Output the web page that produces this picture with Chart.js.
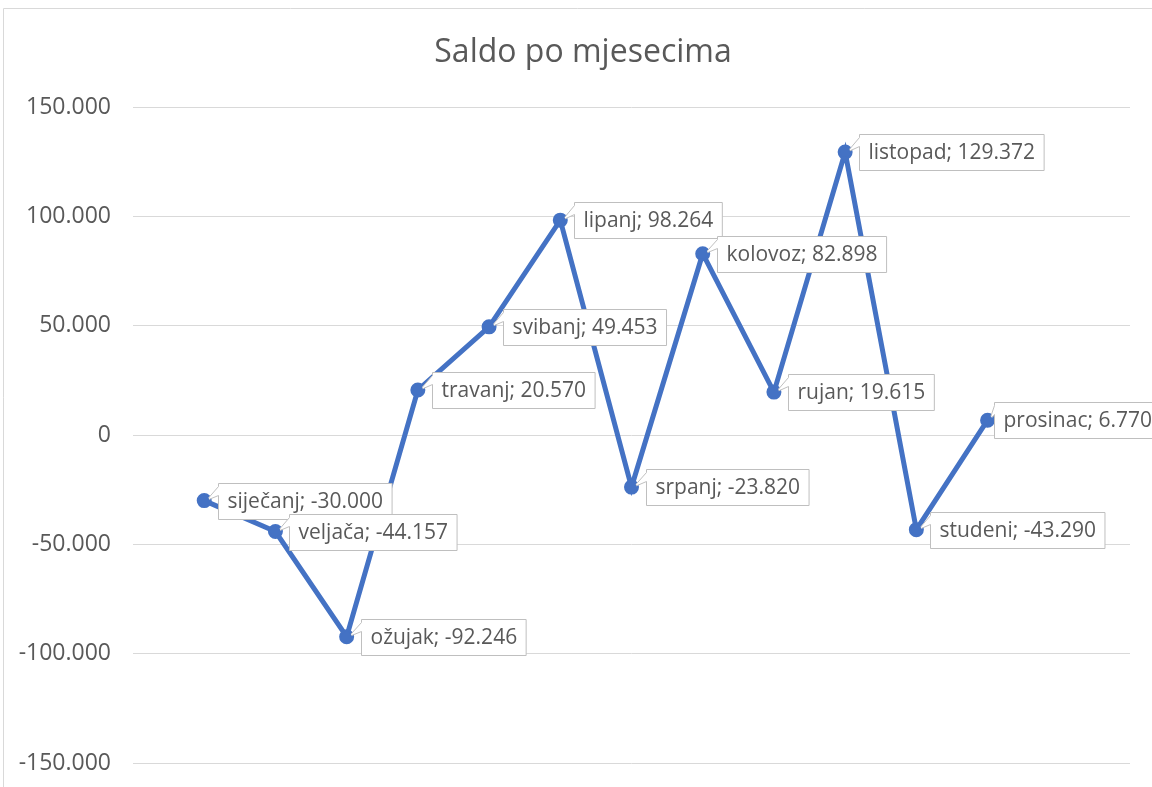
<!DOCTYPE html>
<html lang="hr">
<head>
  <meta charset="UTF-8">
  <title>Saldo po mjesecima</title>
  <script src="https://cdn.jsdelivr.net/npm/chart.js"></script>
  <style>
    body, html {
      margin: 0;
      background: #fff;
    }
    #wrap {
      width: 1152px;
      height: 787px;
    }
  </style>
</head>
<body>
  <div id="wrap"><canvas id="saldoChart" width="1152" height="787"></canvas></div>

  <script>
    const months = ["siječanj", "veljača", "ožujak", "travanj", "svibanj", "lipanj",
                    "srpanj", "kolovoz", "rujan", "listopad", "studeni", "prosinac"];
    const saldo = [-30000, -44157, -92246, 20570, 49453, 98264,
                   -23820, 82898, 19615, 129372, -43290, 6770];
    const yTicks = [-150000, -100000, -50000, 0, 50000, 100000, 150000];

    // Excel leaves one empty slot before and two after the series
    const xLabels = [""].concat(months, ["", ""]);
    const yData = [null].concat(saldo, [null, null]);

    const fmt = v => {
      const s = Math.abs(v).toString().replace(/\B(?=(\d{3})+(?!\d))/g, ".");
      return (v < 0 ? "-" : "") + s;
    };

    const FONT = "'Open Sans', sans-serif";

    // chart frame + title
    const framePlugin = {
      id: "frame",
      beforeDraw(chart) {
        const ctx = chart.ctx;
        ctx.save();
        ctx.strokeStyle = "#d9d9d9";
        ctx.lineWidth = 1;
        ctx.beginPath();
        ctx.moveTo(3.5, 787);
        ctx.lineTo(3.5, 8.5);
        ctx.lineTo(1152, 8.5);
        ctx.stroke();
        ctx.fillStyle = "#595959";
        ctx.font = "32px " + FONT;
        ctx.textAlign = "center";
        ctx.textBaseline = "middle";
        ctx.fillText("Saldo po mjesecima", 583, 53);
        ctx.restore();
      }
    };

    // callout data labels like Excel
    const calloutPlugin = {
      id: "callouts",
      afterDatasetsDraw(chart) {
        const ctx = chart.ctx;
        const meta = chart.getDatasetMeta(0);
        ctx.save();
        ctx.font = "21px " + FONT;
        meta.data.forEach((pt, i) => {
          const v = yData[i];
          if (v === null) return;
          const text = xLabels[i] + "; " + fmt(v);
          const w = ctx.measureText(text).width + 18;
          const h = 36;
          let x0 = pt.x + 14;
          if (x0 + w > chart.width) x0 = Math.max(pt.x + 6, chart.width - w);
          x0 = Math.round(x0) + 0.5;
          const y0 = Math.round(pt.y - h / 2) + 0.5;
          ctx.beginPath();
          ctx.moveTo(x0, y0);
          ctx.lineTo(x0 + w, y0);
          ctx.lineTo(x0 + w, y0 + h);
          ctx.lineTo(x0, y0 + h);
          ctx.lineTo(x0, y0 + 12);
          ctx.lineTo(pt.x + 2, pt.y);
          ctx.lineTo(x0, y0 + 3);
          ctx.closePath();
          ctx.fillStyle = "#fff";
          ctx.fill();
          ctx.strokeStyle = "#bfbfbf";
          ctx.lineWidth = 1;
          ctx.stroke();
          // redraw point over the wedge
          ctx.beginPath();
          ctx.arc(pt.x, pt.y, 5, 0, Math.PI * 2);
          ctx.fillStyle = "#4472C4";
          ctx.fill();
          ctx.fillStyle = "#595959";
          ctx.textAlign = "left";
          ctx.textBaseline = "middle";
          ctx.fillText(text, x0 + 9, y0 + h / 2 + 1);
        });
        ctx.restore();
      }
    };

    new Chart(document.getElementById("saldoChart"), {
      type: "line",
      data: {
        labels: xLabels,
        datasets: [{
          data: yData,
          borderColor: "#4472C4",
          backgroundColor: "#4472C4",
          borderWidth: 5,
          pointRadius: 5,
          pointBackgroundColor: "#4472C4",
          pointBorderColor: "#4472C4",
          tension: 0
        }]
      },
      options: {
        responsive: false,
        animation: false,
        events: [],
        layout: { padding: { top: 107, bottom: 24, right: 22, left: 0 } },
        plugins: {
          legend: { display: false },
          title: { display: false },
          tooltip: { enabled: false }
        },
        scales: {
          x: {
            display: false,
            offset: false
          },
          y: {
            min: -150000,
            max: 150000,
            afterFit(scale) {
              scale.width = 133;
              scale.paddingTop = 0;
              scale.paddingBottom = 0;
            },
            afterBuildTicks(scale) { scale.ticks = yTicks.map(v => ({ value: v })); },
            border: { display: false },
            grid: { color: "#d9d9d9", lineWidth: 1, drawTicks: false },
            ticks: {
              padding: 22,
              color: "#595959",
              font: { family: "'Open Sans', sans-serif", size: 23 },
              callback: v => fmt(v)
            }
          }
        }
      },
      plugins: [framePlugin, calloutPlugin]
    });
  </script>
</body>
</html>
